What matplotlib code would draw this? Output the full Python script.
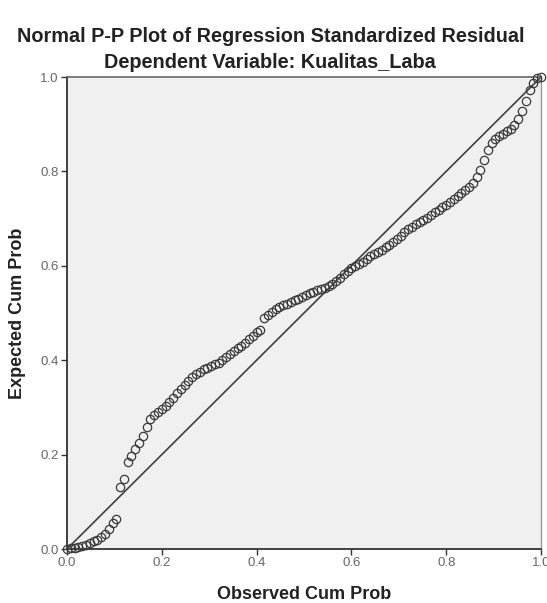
import matplotlib
matplotlib.use("Agg")
import matplotlib.pyplot as plt

title = "Normal P-P Plot of Regression Standardized Residual"
subtitle = "Dependent Variable: Kualitas_Laba"
xlabel = "Observed Cum Prob"
ylabel = "Expected Cum Prob"
ticks = [0.0, 0.2, 0.4, 0.6, 0.8, 1.0]
tick_labels = ["0.0", "0.2", "0.4", "0.6", "0.8", "1.0"]

observed = [0.000, 0.008, 0.016, 0.024, 0.032, 0.040, 0.048, 0.056, 0.064, 0.072,
            0.080, 0.088, 0.096, 0.104, 0.112, 0.120, 0.128, 0.136, 0.144, 0.152,
            0.160, 0.168, 0.176, 0.184, 0.192, 0.200, 0.208, 0.216, 0.224, 0.232,
            0.240, 0.248, 0.256, 0.264, 0.272, 0.280, 0.288, 0.296, 0.304, 0.312,
            0.320, 0.328, 0.336, 0.344, 0.352, 0.360, 0.368, 0.376, 0.384, 0.392,
            0.400, 0.408, 0.416, 0.424, 0.432, 0.440, 0.448, 0.456, 0.464, 0.472,
            0.480, 0.488, 0.496, 0.504, 0.512, 0.520, 0.528, 0.536, 0.544, 0.552,
            0.560, 0.568, 0.576, 0.584, 0.592, 0.600, 0.608, 0.616, 0.624, 0.632,
            0.640, 0.648, 0.656, 0.664, 0.672, 0.680, 0.688, 0.696, 0.704, 0.712,
            0.720, 0.728, 0.736, 0.744, 0.752, 0.760, 0.768, 0.776, 0.784, 0.792,
            0.800, 0.808, 0.816, 0.824, 0.832, 0.840, 0.848, 0.856, 0.864, 0.872,
            0.880, 0.888, 0.896, 0.904, 0.912, 0.920, 0.928, 0.936, 0.944, 0.952,
            0.960, 0.968, 0.976, 0.984, 0.992, 1.000]

expected = [0.000, 0.002, 0.003, 0.005, 0.007, 0.009, 0.012, 0.016, 0.020, 0.025,
            0.032, 0.042, 0.055, 0.064, 0.132, 0.148, 0.184, 0.198, 0.212, 0.225,
            0.240, 0.258, 0.275, 0.284, 0.290, 0.296, 0.303, 0.311, 0.320, 0.330,
            0.340, 0.348, 0.356, 0.364, 0.371, 0.376, 0.381, 0.384, 0.388, 0.391,
            0.395, 0.400, 0.407, 0.413, 0.419, 0.425, 0.431, 0.437, 0.444, 0.452,
            0.460, 0.465, 0.490, 0.496, 0.502, 0.508, 0.513, 0.517, 0.520, 0.523,
            0.527, 0.530, 0.533, 0.538, 0.542, 0.545, 0.548, 0.551, 0.554, 0.557,
            0.562, 0.568, 0.574, 0.582, 0.590, 0.595, 0.599, 0.603, 0.608, 0.614,
            0.621, 0.626, 0.629, 0.634, 0.640, 0.644, 0.650, 0.657, 0.664, 0.671,
            0.677, 0.683, 0.688, 0.692, 0.697, 0.702, 0.708, 0.714, 0.719, 0.724,
            0.729, 0.735, 0.741, 0.747, 0.754, 0.760, 0.766, 0.776, 0.788, 0.802,
            0.825, 0.845, 0.860, 0.869, 0.876, 0.880, 0.885, 0.890, 0.898, 0.910,
            0.928, 0.950, 0.972, 0.988, 0.997, 1.000]

plt.rcParams['font.family'] = ['Liberation Sans', 'DejaVu Sans']

fig = plt.figure(figsize=(5.47, 6.03), dpi=100)
fig.patch.set_facecolor('white')
ax = fig.add_axes([67/547, 54/603, 474/547, 472/603])
ax.set_facecolor('#f0f0f0')

ax.plot([0, 1], [0, 1], color='#404040', lw=1.2, zorder=2)
ax.plot(observed, expected, linestyle='none', marker='o', markersize=6,
        markerfacecolor='none', markeredgecolor='#3a3a3a', markeredgewidth=0.9,
        zorder=3, clip_on=False)

ax.set_xlim(0, 1)
ax.set_ylim(0, 1)
ax.set_xticks(ticks)
ax.set_xticklabels(tick_labels)
ax.set_yticks(ticks)
ax.set_yticklabels(tick_labels)
ax.tick_params(axis='both', direction='out', length=4, width=1, color='#333333',
               labelsize=9.5, labelcolor='#666666', pad=2)

for side in ['left', 'bottom']:
    ax.spines[side].set_color('#333333')
    ax.spines[side].set_linewidth(1.3)
ax.spines['top'].set_color('#666666')
ax.spines['top'].set_linewidth(1.2)
ax.spines['right'].set_color('#999999')
ax.spines['right'].set_linewidth(1.0)

ax.set_xlabel(xlabel, fontsize=13, fontweight='bold', color='#222222', labelpad=12)
ax.set_ylabel(ylabel, fontsize=13, fontweight='bold', color='#222222', labelpad=10)

fig.text(271/547, 1 - 37/603, title, ha='center', va='center', fontsize=14.3,
         fontweight='bold', color='#222222')
fig.text(270/547, 1 - 63/603, subtitle, ha='center', va='center', fontsize=14.3,
         fontweight='bold', color='#222222')

fig.savefig('out.png', dpi=100)
